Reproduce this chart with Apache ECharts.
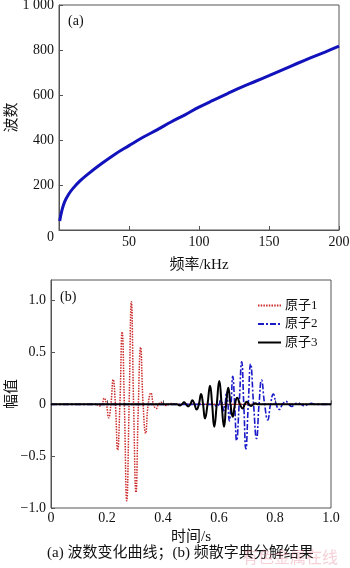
<!DOCTYPE html>
<html>
<head>
<meta charset="utf-8">
<script src="https://cdn.jsdelivr.net/npm/echarts@6/dist/echarts.min.js"></script>
<style>
  html, body { margin: 0; padding: 0; background: #fff; }
  #chart { width: 350px; height: 568px; }
</style>
</head>
<body>
<div id="chart"></div>
<script>
// (a) wavenumber vs frequency: [frequency kHz, wavenumber]
const dispersionCurve = [
  [0.5, 40], [2, 85], [4, 125], [7, 160], [10, 185], [15, 218], [20, 245],
  [30, 293], [40, 337], [50, 375], [60, 412], [70, 445], [80, 480], [90, 512],
  [100, 546], [110, 576], [120, 605], [130, 634], [140, 660], [150, 686],
  [160, 713], [170, 740], [180, 766], [190, 791], [200, 817]
];

// (b) decomposition atoms: [time s, amplitude]
const atom1 = [
  [0.00, 0], [0.160, 0], [0.174, -0.015], [0.182, 0], [0.190, 0.06], [0.198, 0],
  [0.206, -0.13], [0.214, 0], [0.222, 0.24], [0.230, 0], [0.238, -0.44], [0.246, 0],
  [0.254, 0.70], [0.262, 0], [0.2705, -0.93], [0.279, 0], [0.287, 0.99], [0.295, 0],
  [0.3035, -0.85], [0.312, 0], [0.320, 0.55], [0.329, 0], [0.338, -0.28], [0.347, 0],
  [0.357, 0.11], [0.366, 0], [0.376, -0.04], [0.384, 0], [0.393, 0.02], [0.402, 0],
  [0.410, -0.01], [0.420, 0], [0.430, 0.008], [0.440, 0], [1.00, 0]
];
const atom2 = [
  [0.00, 0], [0.580, 0], [0.592, -0.02], [0.600, 0], [0.607, 0.04], [0.612, 0],
  [0.617, -0.06], [0.622, 0], [0.627, 0.12], [0.632, 0], [0.637, -0.16], [0.643, 0],
  [0.649, 0.27], [0.656, 0], [0.663, -0.35], [0.672, 0], [0.681, 0.41], [0.6885, 0],
  [0.696, -0.43], [0.7045, 0], [0.713, 0.39], [0.7235, 0], [0.734, -0.33], [0.743, 0],
  [0.752, 0.235], [0.763, 0], [0.774, -0.15], [0.784, 0], [0.794, 0.10], [0.8045, 0],
  [0.815, -0.05], [0.827, 0], [0.839, 0.03], [0.8495, 0], [0.860, -0.02], [0.870, 0],
  [0.880, 0.015], [0.8925, 0], [0.905, -0.015], [0.9175, 0], [0.930, 0.01], [0.942, 0],
  [1.00, 0]
];
const atom3 = [
  [0.00, 0], [0.450, 0], [0.460, -0.01], [0.4675, 0], [0.475, 0.02], [0.4825, 0],
  [0.490, -0.02], [0.4975, 0], [0.505, 0.04], [0.5125, 0], [0.520, -0.05], [0.528, 0],
  [0.536, 0.10], [0.543, 0], [0.550, -0.136], [0.559, 0], [0.568, 0.18], [0.5755, 0],
  [0.583, -0.216], [0.592, 0], [0.601, 0.226], [0.6095, 0], [0.618, -0.216], [0.6255, 0],
  [0.633, 0.161], [0.641, 0], [0.649, -0.12], [0.657, 0], [0.665, 0.064], [0.675, 0],
  [0.685, -0.04], [0.692, 0], [0.699, 0.025], [0.707, 0], [0.715, -0.015], [0.7225, 0],
  [0.730, 0.01], [0.740, 0], [1.00, 0]
];

const atomNames = ['原子1', '原子2', '原子3'];
const captionText = '(a) 波数变化曲线；(b) 频散字典分解结果';

const serif = '"Liberation Serif", "Noto Sans CJK SC", serif';
const labelStyle = { color: '#111', fontFamily: serif, fontSize: 14 };
const nameStyle = { color: '#111', fontFamily: serif, fontSize: 15 };

function fmtSigned(v) {
  if (v === 0) return '0';
  const s = Math.abs(v).toFixed(1);
  return v < 0 ? '\u2212' + s : s;
}

const chart = echarts.init(document.getElementById('chart'), null, { renderer: 'canvas' });

const axisLine = { show: true, lineStyle: { color: '#555', width: 1 } };
const tickIn = { show: true, inside: true, length: 4, lineStyle: { color: '#555' } };

chart.setOption({
  animation: false,
  backgroundColor: '#fff',
  grid: [
    { left: 59, top: 5, width: 280, height: 225, show: true, borderColor: '#555', borderWidth: 1,
      containLabel: false, outerBoundsMode: 'none' },
    { left: 51, top: 280, width: 280, height: 228, show: true, borderColor: '#555', borderWidth: 1,
      containLabel: false, outerBoundsMode: 'none' }
  ],
  xAxis: [
    {
      gridIndex: 0, type: 'value', min: 0, max: 200, interval: 50,
      axisLine, axisTick: tickIn, splitLine: { show: false },
      axisLabel: { ...labelStyle, margin: 5, showMinLabel: false },
      name: '频率/kHz', nameLocation: 'middle', nameGap: 28, nameMoveOverlap: false,
      nameTextStyle: nameStyle
    },
    {
      gridIndex: 1, type: 'value', min: 0, max: 1, interval: 0.2,
      axisLine, axisTick: tickIn, splitLine: { show: false },
      axisLabel: { ...labelStyle, margin: 3, formatter: v => (v === 0 ? '0' : v.toFixed(1)) },
      name: '时间/s', nameLocation: 'middle', nameGap: 22, nameMoveOverlap: false,
      nameTextStyle: nameStyle
    }
  ],
  yAxis: [
    {
      gridIndex: 0, type: 'value', min: 0, max: 1000, interval: 200,
      axisLine, axisTick: tickIn, splitLine: { show: false },
      axisLabel: {
        ...labelStyle, margin: 5,
        formatter: v => (v === 1000 ? '1 000' : v === 0 ? '{z|0}' : String(v)),
        rich: { z: { ...labelStyle, padding: [14, 0, 0, 0] } }
      },
      name: '波数', nameLocation: 'middle', nameGap: 39, nameRotate: 90, nameMoveOverlap: false,
      nameTextStyle: nameStyle
    },
    {
      gridIndex: 1, type: 'value', min: -1, max: 1.2, interval: 0.5,
      axisLine, axisTick: tickIn, splitLine: { show: false },
      axisLabel: { ...labelStyle, margin: 5, showMaxLabel: false, formatter: fmtSigned },
      name: '幅值', nameLocation: 'middle', nameGap: 31, nameRotate: 90, nameMoveOverlap: false,
      nameTextStyle: nameStyle
    }
  ],
  legend: {
    data: atomNames,
    orient: 'vertical',
    left: 252, top: 294,
    itemWidth: 23, itemHeight: 14, itemGap: 5.5,
    itemStyle: { opacity: 0 },
    textStyle: { color: '#111', fontFamily: serif, fontSize: 13, padding: [0, 0, 0, -1] }
  },
  series: [
    {
      type: 'line', xAxisIndex: 0, yAxisIndex: 0, data: dispersionCurve,
      smooth: 0.4, showSymbol: false, silent: true,
      lineStyle: { color: '#1212bc', width: 3 }
    },
    {
      name: atomNames[0], type: 'line', xAxisIndex: 1, yAxisIndex: 1, data: atom1,
      smooth: 0.5, showSymbol: false, symbol: 'none',
      itemStyle: { color: '#cc2a2a' },
      lineStyle: { color: '#cc2a2a', width: 1.5, type: [1.5, 1.2] }
    },
    {
      name: atomNames[1], type: 'line', xAxisIndex: 1, yAxisIndex: 1, data: atom2,
      smooth: 0.5, showSymbol: false, symbol: 'none',
      itemStyle: { color: '#1a1ac8' },
      lineStyle: { color: '#1a1ac8', width: 1.6, type: [6, 2, 2, 2] }
    },
    {
      name: atomNames[2], type: 'line', xAxisIndex: 1, yAxisIndex: 1, data: atom3,
      smooth: 0.5, showSymbol: false, symbol: 'none',
      itemStyle: { color: '#000' },
      lineStyle: { color: '#000', width: 2 }
    }
  ],
  graphic: [
    { type: 'text', left: 68, top: 14, style: { text: '(a)', font: '14px ' + serif, fill: '#111' } },
    { type: 'text', left: 60, top: 290, style: { text: '(b)', font: '14px ' + serif, fill: '#111' } },
    { type: 'text', left: 47, top: 546, style: { text: captionText, font: '15px ' + serif, fill: '#111' } },
    { type: 'text', left: 242, top: 549, style: { text: '有色金属在线', font: '16px "Noto Sans CJK SC", sans-serif', fill: 'rgba(225,120,140,0.35)' } }
  ]
});
</script>
</body>
</html>
